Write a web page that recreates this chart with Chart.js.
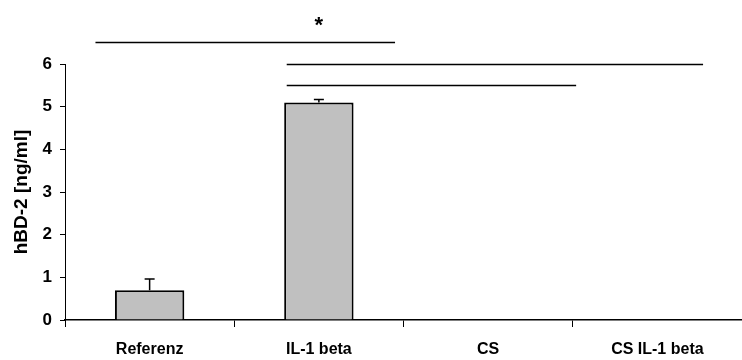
<!DOCTYPE html>
<html><head><meta charset="utf-8">
<script src="https://cdn.jsdelivr.net/npm/chart.js@4/dist/chart.umd.min.js"></script>
<style>html,body{margin:0;padding:0;background:#fff}#wrap{width:742px;height:360px}</style>
</head><body><div id="wrap"><canvas id="c" width="742" height="360"></canvas></div>
<script>
const categories = ["Referenz", "IL-1 beta", "CS", "CS IL-1 beta"];
const values = [0.70, 5.10, 0.01, 0.01];
const errors = [0.26, 0.07, 0, 0];
const yTicks = [0, 1, 2, 3, 4, 5, 6];
const sigLines = [
  {from: -0.32, to: 1.45, y: 6.52},
  {from: 0.81, to: 3.27, y: 6.0},
  {from: 0.81, to: 2.52, y: 5.51}
];
const sigMark = {text: "*", x: 1.0, y: 6.9};

const FONT = "'Liberation Sans', Arial, sans-serif";

const overlay = {
  id: 'overlay',
  afterDatasetsDraw(chart) {
    const ctx = chart.ctx, xs = chart.scales.x, ys = chart.scales.y;
    ctx.save();
    ctx.strokeStyle = '#000';
    ctx.lineWidth = 1.5;
    values.forEach((v, i) => {
      if (!errors[i]) return;
      const x = xs.getPixelForValue(i);
      const y0 = ys.getPixelForValue(v);
      const y1 = ys.getPixelForValue(v + errors[i]);
      ctx.beginPath();
      ctx.moveTo(x, y0); ctx.lineTo(x, y1);
      ctx.moveTo(x - 5, y1); ctx.lineTo(x + 5, y1);
      ctx.stroke();
    });
    ctx.lineWidth = 1.5;
    sigLines.forEach(l => {
      const y = Math.round(ys.getPixelForValue(l.y)) + 0.5;
      ctx.beginPath();
      ctx.moveTo(xs.getPixelForValue(l.from), y);
      ctx.lineTo(xs.getPixelForValue(l.to), y);
      ctx.stroke();
    });
    ctx.fillStyle = '#000';
    ctx.font = "bold 22px " + FONT;
    ctx.textAlign = 'center';
    ctx.textBaseline = 'middle';
    ctx.fillText(sigMark.text, xs.getPixelForValue(sigMark.x), ys.getPixelForValue(sigMark.y));
    ctx.restore();
  }
};

new Chart(document.getElementById('c'), {
  type: 'bar',
  data: {
    labels: categories,
    datasets: [{
      data: values,
      backgroundColor: '#c0c0c0',
      borderColor: '#000',
      borderWidth: 2,
      categoryPercentage: 1.0,
      barPercentage: 0.41
    }]
  },
  options: {
    responsive: false,
    animation: false,
    devicePixelRatio: 1,
    layout: {padding: {top: 64, right: 0, left: 0, bottom: 0}},
    plugins: {legend: {display: false}, tooltip: {enabled: false}},
    scales: {
      x: {
        grid: {display: true, drawOnChartArea: false, drawTicks: true, tickLength: 7, color: '#000', offset: true, lineWidth: 1},
        border: {color: '#000', width: 1.5},
        ticks: {color: '#000', padding: 13, font: {family: FONT, size: 16, weight: 'bold'}, maxRotation: 0},
        afterFit(s) { s.height = 40; }
      },
      y: {
        min: 0, max: 6,
        afterBuildTicks(s) { s.ticks = yTicks.map(v => ({value: v})); },
        grid: {display: true, drawOnChartArea: false, drawTicks: true, tickLength: 5, color: '#000'},
        border: {color: '#000', width: 1},
        ticks: {color: '#000', padding: 8, font: {family: FONT, size: 17, weight: 'bold'}},
        title: {display: true, text: 'hBD-2 [ng/ml]', color: '#000', font: {family: FONT, size: 19, weight: 'bold'}, padding: {top: 10, bottom: 4}},
        afterFit(s) { s.width = 65; }
      }
    }
  },
  plugins: [overlay]
});
</script></body></html>
